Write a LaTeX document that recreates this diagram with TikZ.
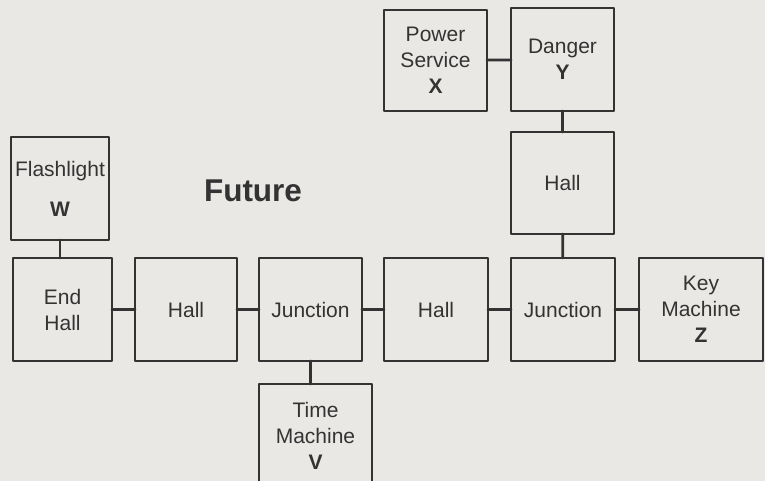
\documentclass[tikz,border=0pt]{standalone}
\usepackage{fontspec}
\setmainfont{Liberation Sans}
\usepackage{xcolor}
\usetikzlibrary{positioning}
\definecolor{paper}{HTML}{E9E8E5}
\definecolor{ink}{HTML}{333333}

\begin{document}
\begin{tikzpicture}[line cap=round,line join=round,x=1pt,y=-1pt]
\tikzstyle{every node}=[font=\fontsize{21}{26}\selectfont,text=ink]
\tikzstyle{room}=[draw=ink,line width=2.8pt,rectangle,inner sep=0pt,outer sep=0pt,align=center,minimum height=103pt]
\tikzstyle{link}=[draw=ink,line width=2.8pt]
\fill[paper] (0,0) rectangle (765,481);
\useasboundingbox (0,0) rectangle (765,481);
% rooms along the main corridor
\node[room,minimum width=99pt] (endhall) at (62.5,309.5) {End\\Hall};
\node[room,minimum width=102pt] (hallA) at (186,309.5) {Hall};
\node[room,minimum width=103pt] (juncA) at (310.5,309.5) {Junction};
\node[room,minimum width=104pt] (hallB) at (436,309.5) {Hall};
\node[room,minimum width=104pt] (juncB) at (563,309.5) {Junction};
\node[room,minimum width=124pt] (keym) at (701,309.5) {Key\\Machine\\\textbf{Z}};
% side rooms
\node[room,minimum width=98pt] (flash) at (60,188.5) {Flashlight\\[14pt]\textbf{W}};
\node[room,minimum width=113pt] (timem) at (315.5,435.5) {Time\\Machine\\\textbf{V}};
\node[room,minimum width=103pt,minimum height=101pt] (power) at (435.5,60.5) {Power\\Service\\\textbf{X}};
\node[room,minimum width=103pt] (danger) at (562.5,59.5) {Danger\\\textbf{Y}};
\node[room,minimum width=103pt,minimum height=102pt] (hallC) at (562.5,183) {Hall};
\node[font=\fontsize{31.5}{36}\bfseries\selectfont] (title) at (253,191) {Future};
% connections
\draw[link] (flash.south) -- (flash.south |- endhall.north);
\draw[link] (endhall) -- (hallA);
\draw[link] (hallA) -- (juncA);
\draw[link] (juncA) -- (hallB);
\draw[link] (hallB) -- (juncB);
\draw[link] (juncB) -- (keym);
\draw[link] (juncA.south) -- (juncA.south |- timem.north);
\draw[link] (power) -- (danger);
\draw[link] (danger) -- (hallC);
\draw[link] (hallC) -- (juncB);
\end{tikzpicture}
\end{document}
